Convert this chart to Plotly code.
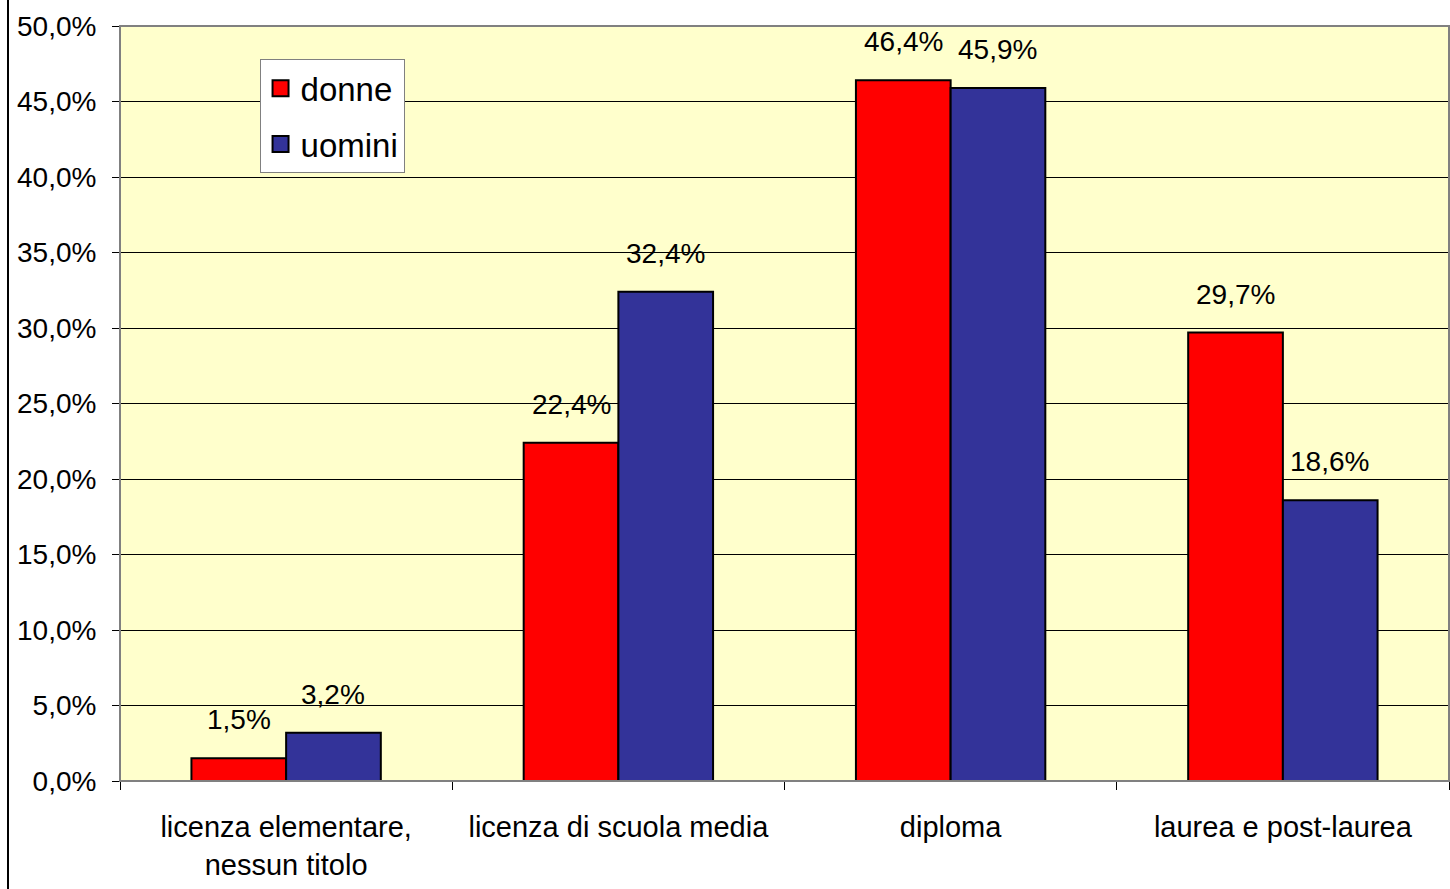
import plotly.graph_objects as go

categories = ["licenza elementare,<br>nessun titolo", "licenza di scuola media", "diploma", "laurea e post-laurea"]
donne = [1.5, 22.4, 46.4, 29.7]
uomini = [3.2, 32.4, 45.9, 18.6]

RED = "#FF0000"
BLUE = "#333399"
FONT = "Liberation Sans, Arial, sans-serif"


def pct(v):
    return f"{v:.1f}".replace(".", ",") + "%"


fig = go.Figure()
for name, vals, color in (("donne", donne, RED), ("uomini", uomini, BLUE)):
    fig.add_trace(go.Bar(name=name, x=categories, y=vals, showlegend=False, hoverinfo="skip",
                         marker=dict(color=color, line=dict(color="black", width=2))))

# legend entries with square swatches
for name, color in (("donne", RED), ("uomini", BLUE)):
    fig.add_trace(go.Scatter(name=name, x=[None], y=[None], mode="markers", legendgroup=name,
                             marker=dict(symbol="square", size=16, color=color,
                                         line=dict(color="black", width=2))))

# value labels above each bar
annotations = []
for cat, vd, vu in zip(categories, donne, uomini):
    for v, shift in ((vd, -47), (vu, 47)):
        annotations.append(dict(x=cat, y=v, text=pct(v), showarrow=False, xref="x", yref="y",
                                xshift=shift, yshift=21, yanchor="bottom",
                                font=dict(family=FONT, size=28, color="black")))

fig.update_layout(
    width=1450, height=889,
    margin=dict(l=120, r=1, t=26, b=108),
    paper_bgcolor="white",
    plot_bgcolor="#FFFFCC",
    barmode="group",
    bargap=0.43,
    bargroupgap=0,
    separators=",.",
    font=dict(family=FONT, size=28, color="black"),
    showlegend=True,
    legend=dict(x=0.105, y=0.956, xanchor="left", yanchor="top",
                bgcolor="white", bordercolor="#808080", borderwidth=1,
                font=dict(family=FONT, size=33, color="black"),
                traceorder="grouped", tracegroupgap=10, itemsizing="trace",
                itemwidth=30),
    annotations=annotations,
    xaxis=dict(type="category", showgrid=False, ticks="outside", tickson="boundaries",
               ticklen=8, tickcolor="black", showline=True, linecolor="black", linewidth=1,
               tickfont=dict(family=FONT, size=29), ticklabelstandoff=20, range=[-0.5, 3.5]),
    yaxis=dict(range=[0, 50], dtick=5, tickformat=".1f", ticksuffix="%",
               showgrid=True, gridcolor="black", gridwidth=1, zeroline=False,
               ticks="outside", ticklen=7, tickcolor="black",
               showline=False, tickfont=dict(family=FONT, size=28), ticklabelstandoff=10),
    shapes=[
        # plot frame
        dict(type="rect", xref="paper", yref="paper", x0=0, x1=1, y0=0, y1=1,
             line=dict(color="#808080", width=2), layer="above"),
        # outer chart edge on the left
        dict(type="line", xref="paper", yref="paper", x0=-112 / 1329, x1=-112 / 1329,
             y0=-108 / 755, y1=1 + 26 / 755, line=dict(color="black", width=2)),
    ],
)

fig.write_html("out.html")
